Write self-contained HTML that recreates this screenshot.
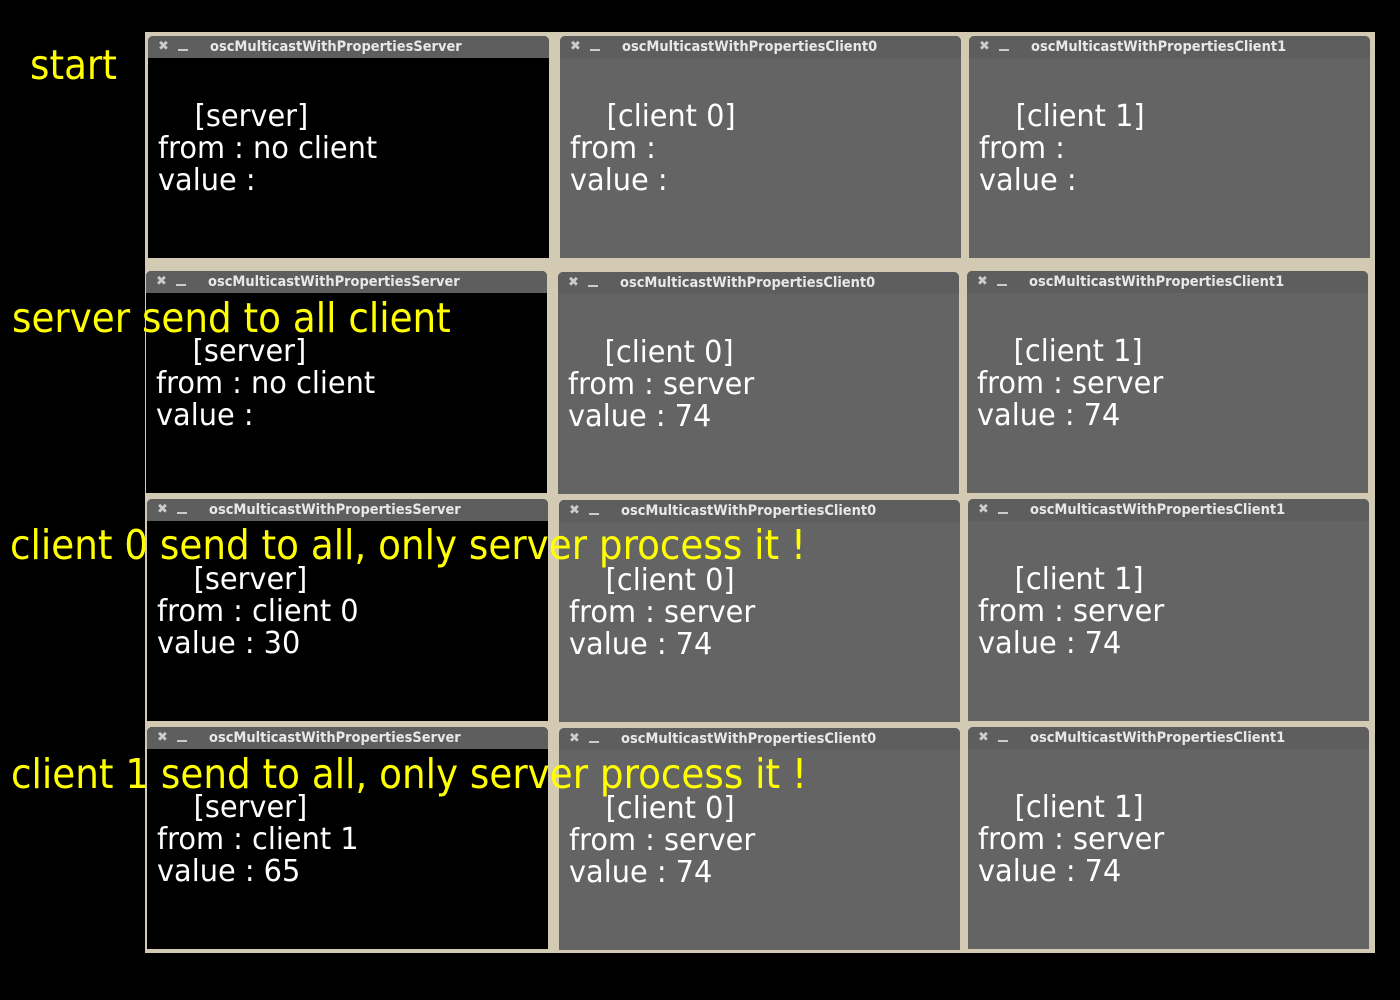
<!DOCTYPE html>
<html><head><meta charset="utf-8"><style>
body{margin:0;width:1400px;height:1000px;background:#000;position:relative;overflow:hidden;font-family:"DejaVu Sans","Liberation Sans",sans-serif}
.bg{position:absolute;left:145px;top:32px;width:1230px;height:921px;background:#d3cab4}
.w{position:absolute;width:401px;height:222px;background:#646464;border-radius:5px 5px 0 0;overflow:hidden}
.w.s{background:#000}
.t{height:22px;background:#5e5e5e;color:#e8e8e8;font-size:14px;font-weight:bold;line-height:22px;position:relative}
.t .x{position:absolute;left:10px;top:0;color:#ccc;font-size:13px}
.t .m{position:absolute;left:30px;top:13px;width:10px;height:2px;background:#ccc}
.t .n{position:absolute;left:62px;top:0;transform:scaleX(0.93);transform-origin:left}
.c{position:absolute;left:10px;top:65px;color:#fff;font-size:30px;line-height:32px;white-space:pre;transform:scaleX(0.96);transform-origin:left}
.y{position:absolute;color:#ffff00;font-size:41px;white-space:nowrap;line-height:1;transform:scaleX(0.91);transform-origin:left}
</style></head><body>
<div class="bg"></div>

<div class="w s" style="left:148px;top:36px"><div class="t"><span class="x">✖</span><span class="m"></span><span class="n">oscMulticastWithPropertiesServer</span></div><div class="c">    [server]
from : no client
value :</div></div>
<div class="w" style="left:560px;top:36px"><div class="t"><span class="x">✖</span><span class="m"></span><span class="n">oscMulticastWithPropertiesClient0</span></div><div class="c">    [client 0]
from :
value :</div></div>
<div class="w" style="left:969px;top:36px"><div class="t"><span class="x">✖</span><span class="m"></span><span class="n">oscMulticastWithPropertiesClient1</span></div><div class="c">    [client 1]
from :
value :</div></div>

<div class="w s" style="left:146px;top:271px"><div class="t"><span class="x">✖</span><span class="m"></span><span class="n">oscMulticastWithPropertiesServer</span></div><div class="c">    [server]
from : no client
value :</div></div>
<div class="w" style="left:558px;top:272px"><div class="t"><span class="x">✖</span><span class="m"></span><span class="n">oscMulticastWithPropertiesClient0</span></div><div class="c">    [client 0]
from : server
value : 74</div></div>
<div class="w" style="left:967px;top:271px"><div class="t"><span class="x">✖</span><span class="m"></span><span class="n">oscMulticastWithPropertiesClient1</span></div><div class="c">    [client 1]
from : server
value : 74</div></div>

<div class="w s" style="left:147px;top:499px"><div class="t"><span class="x">✖</span><span class="m"></span><span class="n">oscMulticastWithPropertiesServer</span></div><div class="c">    [server]
from : client 0
value : 30</div></div>
<div class="w" style="left:559px;top:500px"><div class="t"><span class="x">✖</span><span class="m"></span><span class="n">oscMulticastWithPropertiesClient0</span></div><div class="c">    [client 0]
from : server
value : 74</div></div>
<div class="w" style="left:968px;top:499px"><div class="t"><span class="x">✖</span><span class="m"></span><span class="n">oscMulticastWithPropertiesClient1</span></div><div class="c">    [client 1]
from : server
value : 74</div></div>

<div class="w s" style="left:147px;top:727px"><div class="t"><span class="x">✖</span><span class="m"></span><span class="n">oscMulticastWithPropertiesServer</span></div><div class="c">    [server]
from : client 1
value : 65</div></div>
<div class="w" style="left:559px;top:728px"><div class="t"><span class="x">✖</span><span class="m"></span><span class="n">oscMulticastWithPropertiesClient0</span></div><div class="c">    [client 0]
from : server
value : 74</div></div>
<div class="w" style="left:968px;top:727px"><div class="t"><span class="x">✖</span><span class="m"></span><span class="n">oscMulticastWithPropertiesClient1</span></div><div class="c">    [client 1]
from : server
value : 74</div></div>

<div class="y" style="left:30px;top:45px">start</div>
<div class="y" style="left:12px;top:298px">server send to all client</div>
<div class="y" style="left:10px;top:525px">client 0 send to all, only server process it !</div>
<div class="y" style="left:11px;top:754px">client 1 send to all, only server process it !</div>
</body></html>
